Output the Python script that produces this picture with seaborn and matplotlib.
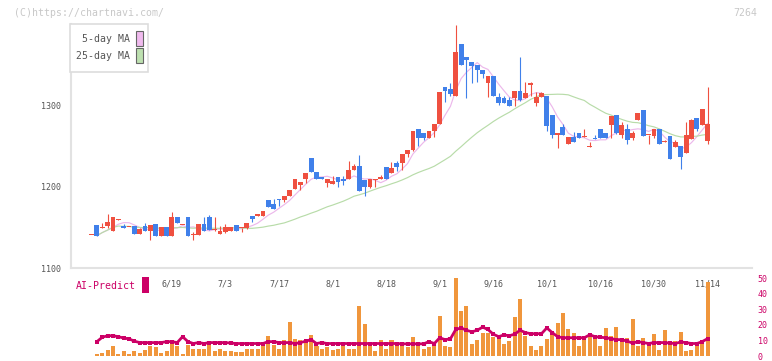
import numpy as np
import pandas as pd
import matplotlib
matplotlib.use("Agg")
import matplotlib.pyplot as plt
import seaborn as sns
from matplotlib.patches import Rectangle

# ---------------- data ----------------
opens = [1140, 1153, 1149, 1152, 1145, 1159, 1152, 1150, 1152, 1142,
         1152, 1145, 1154, 1139, 1150, 1139, 1163, 1153, 1163, 1140,
         1140, 1154, 1163, 1147, 1142, 1144, 1146, 1153, 1149, 1149,
         1164, 1164.5, 1164, 1183, 1178.5, 1185, 1183, 1188, 1197, 1202,
         1210, 1235, 1218, 1212, 1205, 1203, 1212, 1209, 1210, 1220,
         1226, 1208, 1199, 1208, 1209, 1224, 1217, 1229, 1229, 1240,
         1245, 1271, 1266, 1260, 1269, 1277, 1322, 1320, 1312, 1375,
         1360, 1353, 1349, 1344, 1327, 1336, 1310, 1309, 1307, 1309,
         1318, 1309, 1324.5, 1302.5, 1310, 1312, 1288, 1263, 1273, 1253,
         1261, 1266, 1260.5, 1248.5, 1260, 1271, 1266, 1275.5, 1288, 1264,
         1271, 1259.5, 1282, 1294, 1263, 1262, 1271, 1254.5, 1262, 1248.5,
         1250, 1241, 1258, 1284, 1275.5, 1256]
highs = [1140, 1153, 1155, 1166, 1163, 1160, 1154, 1150, 1152, 1149,
         1155, 1153, 1154, 1150, 1150, 1169, 1163, 1153, 1163, 1144,
         1154, 1163, 1165, 1163, 1152, 1154, 1151, 1153, 1149, 1155,
         1164, 1165, 1170, 1183, 1185, 1185, 1188, 1196, 1209, 1205.5,
         1217, 1235, 1218, 1212, 1210, 1213, 1212, 1213, 1231, 1228,
         1239, 1208, 1209, 1210, 1214, 1224, 1230, 1231, 1240, 1245,
         1269, 1271, 1266, 1268, 1277, 1317, 1322, 1328, 1399, 1375,
         1360, 1353, 1349, 1344, 1336, 1336, 1315, 1311, 1310, 1318,
         1359, 1329, 1329, 1316, 1317, 1312, 1288, 1266, 1277, 1261,
         1267, 1266, 1271, 1255, 1264, 1271, 1266, 1286.5, 1288, 1279,
         1277, 1268, 1291, 1294, 1263.5, 1271, 1271, 1257, 1262, 1257,
         1250, 1280, 1283, 1284, 1295, 1322]
lows = [1140, 1139, 1149, 1149, 1145, 1159, 1149, 1150, 1142, 1142,
        1146, 1134, 1139, 1139, 1139, 1139, 1155, 1153, 1139, 1134,
        1140, 1146, 1147, 1146, 1142, 1143, 1146, 1146, 1144, 1148,
        1156, 1164, 1164, 1175, 1172, 1176, 1181, 1188, 1197, 1196,
        1205, 1218, 1210, 1209, 1199, 1203, 1199, 1202, 1210, 1220,
        1194.5, 1188, 1198, 1199, 1209, 1210, 1217, 1219, 1220, 1236,
        1244, 1250, 1257, 1260, 1261, 1277, 1304, 1312, 1312, 1349,
        1309, 1327, 1329, 1333, 1310, 1311, 1300, 1302.5, 1299, 1299,
        1305, 1309, 1312, 1299, 1310, 1269, 1260, 1248, 1264, 1253,
        1255, 1259.5, 1260.5, 1248.5, 1258, 1259.5, 1259.5, 1259.5, 1265, 1259.5,
        1253, 1257, 1282, 1262, 1253, 1259.5, 1253, 1254.5, 1234, 1248.5,
        1221.5, 1241, 1258, 1269, 1275.5, 1253]
closes = [1140.5, 1139, 1151, 1156, 1163, 1160, 1149, 1150.5, 1142, 1148,
          1146, 1153, 1139, 1150, 1139, 1163, 1155, 1153.5, 1139, 1142,
          1154, 1146, 1147, 1147.5, 1146, 1150, 1150, 1146, 1149.5, 1155,
          1160, 1165, 1170, 1175, 1173, 1184, 1188, 1196, 1209, 1205.5,
          1217, 1218, 1210, 1209, 1210, 1207, 1205.5, 1207.5, 1220, 1226,
          1194.5, 1199, 1209, 1210, 1212, 1210, 1223, 1224, 1240, 1245,
          1269, 1259.5, 1259.5, 1268, 1277, 1317, 1318, 1313.5, 1366, 1350,
          1356, 1348, 1343, 1338, 1336, 1311, 1302.5, 1302.5, 1299, 1318,
          1307, 1315, 1328, 1310, 1315, 1274, 1264, 1266, 1264, 1261,
          1255, 1259.5, 1261, 1249, 1259, 1259.5, 1259.5, 1286.5, 1266, 1275.5,
          1257, 1266, 1291, 1262, 1263.5, 1271, 1253, 1255, 1234, 1254.6,
          1237, 1263, 1282, 1271, 1295, 1277]

# volume and AI-predict exist from the 2nd trading day onwards
volume = [1.0, 1.7, 3.6, 6.1, 1.0, 2.9, 1.0, 2.9, 1.7, 3.6,
          6.7, 5.5, 1.7, 2.9, 8.0, 6.7, 1.0, 7.3, 4.2, 4.8,
          4.8, 7.3, 2.9, 4.8, 2.9, 2.9, 2.3, 2.3, 4.2, 4.2,
          4.2, 6.7, 13.0, 7.3, 4.8, 10.5, 21.8, 11.1, 10.5, 8.6,
          13.6, 6.1, 4.2, 5.5, 3.6, 4.2, 6.7, 4.2, 4.2, 31.9,
          20.5, 7.3, 2.9, 10.5, 4.8, 10.2, 8.6, 6.1, 5.5, 12.4,
          6.7, 4.8, 5.5, 7.3, 25.6, 6.1, 5.5, 50.0, 28.7, 31.9,
          8.0, 10.5, 14.9, 14.9, 12.4, 11.1, 8.0, 9.9, 24.9, 36.3,
          13.0, 6.7, 3.6, 6.1, 11.1, 15.5, 21.2, 27.5, 17.4, 14.9,
          6.7, 10.5, 12.4, 11.1, 6.1, 18.0, 13.0, 18.7, 10.5, 11.7,
          23.7, 6.1, 11.7, 7.3, 14.3, 3.6, 16.8, 8.0, 9.9, 15.5,
          2.9, 3.6, 8.6, 8.0, 47.6]
ai_predict = [9.2, 12.0, 13.0, 13.0, 12.4, 11.5, 11.0, 9.5, 8.6, 8.6,
              8.6, 8.6, 8.6, 9.2, 9.2, 8.6, 12.4, 9.2, 8.0, 8.6,
              8.0, 8.6, 8.6, 8.6, 8.6, 8.3, 8.0, 8.0, 8.0, 8.0,
              8.0, 8.0, 9.2, 9.2, 8.6, 8.6, 8.6, 8.0, 8.6, 9.5,
              10.5, 8.0, 8.6, 8.0, 8.0, 8.0, 8.0, 8.0, 8.0, 8.0,
              8.0, 8.0, 8.0, 8.0, 8.0, 8.0, 8.0, 7.8, 7.8, 7.8,
              7.8, 7.8, 9.2, 8.0, 11.7, 10.5, 11.0, 17.0, 18.0, 16.5,
              15.5, 16.5, 18.5, 17.0, 14.0, 12.4, 13.5, 13.0, 14.0, 16.5,
              15.0, 14.3, 14.3, 14.3, 18.0, 15.0, 12.4, 11.7, 11.7, 11.7,
              11.7, 11.7, 13.6, 12.4, 12.0, 11.7, 11.1, 10.5, 10.5, 9.5,
              8.3, 9.2, 8.6, 8.0, 8.6, 8.6, 8.6, 8.3, 8.0, 9.0,
              8.6, 8.0, 8.0, 9.2, 11.1]

tick_labels = ["6/19", "7/3", "7/17", "8/1", "8/18", "9/1",
               "9/16", "10/1", "10/16", "10/30", "11/14"]
tick_index = [15, 25, 35, 45, 55, 65, 75, 85, 95, 105, 115]
price_ticks = [1100, 1200, 1300]
vol_ticks = [0, 10, 20, 30, 40, 50]

# ---------------- styling ----------------
sns.set_style("white")
plt.rcParams['font.family'] = ['DejaVu Sans Mono', 'DejaVu Sans']

W, H = 772, 361
RED = "#ef5040"
BLUE = "#4080ea"
AXC = "#e2e2e2"
TXT = "#555555"
MAG = "#cc0066"

fig = plt.figure(figsize=(W / 100, H / 100), dpi=100)
fig.patch.set_facecolor("white")

XL = (-3.83, 123.3)

ax = fig.add_axes([71 / W, 1 - 268 / H, (752 - 71) / W, (268 - 24) / H])
axv = fig.add_axes([71 / W, 1 - 356 / H, (752 - 71) / W, (356 - 278) / H])

n = len(closes)
df = pd.DataFrame({"idx": np.arange(n), "open": opens, "high": highs,
                   "low": lows, "close": closes})
df["up"] = df["close"] >= df["open"]
df["ma5"] = df["close"].rolling(5, min_periods=1).mean()
df["ma25"] = df["close"].rolling(25, min_periods=1).mean()

colors = np.where(df["up"], RED, BLUE)
ax.vlines(df["idx"], df["low"], df["high"], colors=colors, lw=0.8, zorder=3)
body_bot = np.minimum(df["open"], df["close"])
body_h = np.maximum(np.abs(df["close"] - df["open"]), 1.3)
ax.bar(df["idx"], body_h, bottom=body_bot, width=0.9, color=colors,
       linewidth=0, zorder=4)

ma = df.iloc[1:]
sns.lineplot(x=ma["idx"], y=ma["ma5"], ax=ax, color="#ecb8eb", lw=0.85, zorder=2)
sns.lineplot(x=ma["idx"], y=ma["ma25"], ax=ax, color="#b8dca9", lw=0.85, zorder=2)

ax.set_xlim(*XL)
ax.set_ylim(1100, 1400)
ax.set_xlabel("")
ax.set_ylabel("")
for s in ["top", "right"]:
    ax.spines[s].set_visible(False)
for s in ["left", "bottom"]:
    ax.spines[s].set_color(AXC)
    ax.spines[s].set_linewidth(1.5)
ax.set_yticks(price_ticks)
ax.set_yticklabels([str(v) for v in price_ticks])
ax.tick_params(axis="y", length=4, width=1.1, color=AXC, labelsize=6,
               labelcolor=TXT, pad=3)
ax.set_xticks(tick_index)
ax.set_xticklabels(tick_labels)
ax.tick_params(axis="x", which="major", length=0, labelsize=6,
               labelcolor=TXT, pad=8.5)
ax.set_xticks(np.linspace(XL[0], XL[1], 12), minor=True)
ax.tick_params(axis="x", which="minor", length=5.8, width=1.4, color=AXC,
               direction="inout")
ax.grid(False)

# ---- volume / AI-predict panel ----
vidx = np.arange(1, n)
axv.bar(vidx, volume, width=0.75, color="#f0963c", linewidth=0, zorder=2)
sns.lineplot(x=vidx, y=ai_predict, ax=axv, color=MAG, lw=2.0, marker="s",
             markersize=2.2, markeredgewidth=0, zorder=3)
axv.set_xlim(*XL)
axv.set_ylim(0, 50)
for s in axv.spines.values():
    s.set_visible(False)
axv.set_xticks([])
axv.yaxis.tick_right()
axv.set_yticks(vol_ticks)
axv.set_yticklabels([str(v) for v in vol_ticks])
axv.tick_params(axis="y", length=0, labelsize=6, labelcolor=MAG, pad=4)
axv.set_xlabel("")
axv.set_ylabel("")
axv.grid(False)
axv.patch.set_alpha(0)

# ---- legend box ----
def fx(px):
    return px / W

def fy(py):
    return 1 - py / H

fig.patches.append(Rectangle((fx(70), fy(72)), fx(148) - fx(70), fy(24) - fy(72),
                             transform=fig.transFigure, facecolor="white",
                             edgecolor="#dddddd", lw=1.2, zorder=10))
fig.patches.append(Rectangle((fx(136.3), fy(46.3)), fx(6.4), fy(31) - fy(46.3),
                             transform=fig.transFigure, facecolor="#f0baee",
                             edgecolor="#666666", lw=0.8, zorder=11))
fig.patches.append(Rectangle((fx(136.3), fy(63.3)), fx(6.4), fy(48.3) - fy(63.3),
                             transform=fig.transFigure, facecolor="#bde0b0",
                             edgecolor="#666666", lw=0.8, zorder=11))
fig.text(fx(129.5), fy(38.8), "5-day MA", ha="right", va="center",
         fontsize=7.1, color=TXT, zorder=12)
fig.text(fx(129.5), fy(55.8), "25-day MA", ha="right", va="center",
         fontsize=7.1, color=TXT, zorder=12)

# ---- AI-Predict label ----
fig.text(fx(75.5), fy(286), "AI-Predict", ha="left", va="center",
         fontsize=7.1, color=MAG)
fig.patches.append(Rectangle((fx(142), fy(292.7)), fx(6.7), fy(276.7) - fy(292.7),
                             transform=fig.transFigure, facecolor=MAG,
                             edgecolor="none", zorder=11))

# ---- watermark / code ----
fig.text(fx(14), fy(12.7), "(C)https://chartnavi.com/", ha="left", va="center",
         fontsize=7.1, color="#c8c8c8")
fig.text(fx(757), fy(12.7), "7264", ha="right", va="center",
         fontsize=7.1, color="#c8c8c8")

fig.savefig("out.png", dpi=100, facecolor="white")
